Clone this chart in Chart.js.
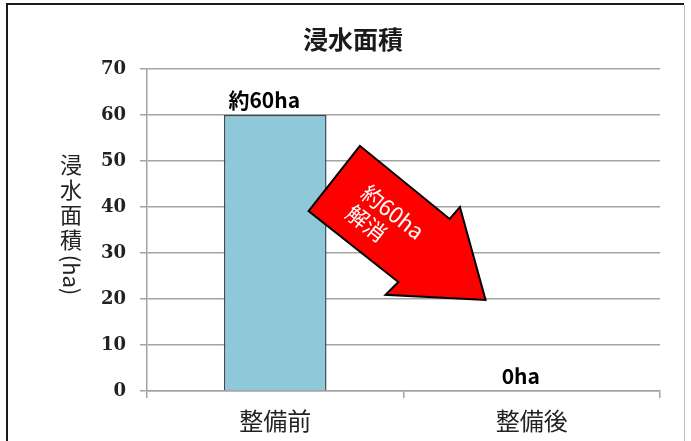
<!DOCTYPE html>
<html>
<head>
<meta charset="utf-8">
<script src="https://cdn.jsdelivr.net/npm/chart.js@4"></script>
<style>
  html, body { margin: 0; padding: 0; background: #fff; }
  #wrap { position: relative; width: 691px; height: 441px; }
</style>
</head>
<body>
<div id="wrap"><canvas id="chart" width="691" height="441"></canvas></div>
<script>
// chart data
const categories = ['整備前', '整備後'];
const areaValues = [60, 0];
const valueLabels = ['約60ha', '0ha'];
const yTicks = [0, 10, 20, 30, 40, 50, 60, 70];

const JP = '"Noto Sans CJK JP", "Noto Sans", sans-serif';
const GRID = '#a3a3a3';

// frame, y-axis title, value labels and the red arrow
const decorations = {
    id: 'decorations',
    afterDraw(chart) {
        const ctx = chart.ctx;
        const x = chart.scales.x;
        const y = chart.scales.y;

        // outer frame (left/top dark, right faint)
        ctx.save();
        ctx.strokeStyle = '#1a1a1a';
        ctx.lineWidth = 2;
        ctx.beginPath();
        ctx.moveTo(7, 445);
        ctx.lineTo(7, 4);
        ctx.lineTo(684, 4);
        ctx.stroke();
        ctx.strokeStyle = '#bbbbbb';
        ctx.lineWidth = 1;
        ctx.beginPath();
        ctx.moveTo(684.5, 5);
        ctx.lineTo(684.5, 445);
        ctx.stroke();
        ctx.restore();

        // vertical axis title, stacked characters
        ctx.save();
        ctx.fillStyle = '#222';
        ctx.font = '22px ' + JP;
        ctx.textAlign = 'center';
        ctx.textBaseline = 'middle';
        const chars = ['浸', '水', '面', '積'];
        chars.forEach((c, i) => ctx.fillText(c, 71, 165 + i * 25));
        ctx.translate(71, 275);
        ctx.rotate(Math.PI / 2);
        ctx.fillText('(ha)', 0, 0);
        ctx.restore();

        // value labels above bars
        ctx.save();
        ctx.fillStyle = '#000';
        ctx.font = 'bold 21px ' + JP;
        ctx.textAlign = 'center';
        ctx.textBaseline = 'bottom';
        const meta = chart.getDatasetMeta(0);
        meta.data.forEach((bar, i) => {
            ctx.fillText(valueLabels[i], bar.x - 11, bar.y - 4);
        });
        ctx.restore();

        // red arrow from the first bar down toward the second
        const px = v => x.getPixelForValue(v);
        const py = v => y.getPixelForValue(v);
        const pts = [
            [px(0.33), py(53.3)],
            [px(0.13), py(39.1)],
            [px(0.48), py(23.7)],
            [px(0.43), py(20.9)],
            [px(0.82), py(19.8)],
            [px(0.72), py(40)],
            [px(0.68), py(37.4)]
        ];
        ctx.save();
        ctx.beginPath();
        pts.forEach((p, i) => i ? ctx.lineTo(p[0], p[1]) : ctx.moveTo(p[0], p[1]));
        ctx.closePath();
        ctx.fillStyle = '#ff0000';
        ctx.fill();
        ctx.lineWidth = 2;
        ctx.strokeStyle = '#000';
        ctx.lineJoin = 'miter';
        ctx.stroke();

        ctx.fillStyle = '#fff';
        ctx.font = '22px ' + JP;
        ctx.textAlign = 'center';
        ctx.textBaseline = 'middle';
        ctx.translate(px(0.45), py(39));
        ctx.rotate(0.66);
        ctx.fillText('約60ha', 2, -1);
        ctx.fillText('解消', -12, 24);
        ctx.restore();
    }
};

new Chart(document.getElementById('chart'), {
    type: 'bar',
    data: {
        labels: categories,
        datasets: [{
            data: areaValues,
            backgroundColor: '#8fc9d9',
            borderColor: '#3c4b52',
            borderWidth: 1.5,
            borderSkipped: 'bottom',
            barPercentage: 0.8,
            categoryPercentage: 0.5
        }]
    },
    options: {
        responsive: false,
        animation: false,
        layout: { padding: { left: 46, right: 31, top: 0, bottom: 0 } },
        plugins: {
            legend: { display: false },
            tooltip: { enabled: false },
            title: {
                display: true,
                text: '浸水面積',
                color: '#1a1a1a',
                font: { family: JP, size: 25, weight: 'bold' },
                padding: { top: 24, bottom: 15 }
            }
        },
        scales: {
            x: {
                afterFit: s => { s.height = 50; },
                grid: {
                    offset: true,
                    drawOnChartArea: false,
                    drawTicks: true,
                    tickLength: 7,
                    color: GRID,
                    lineWidth: 1.5
                },
                border: { color: GRID, width: 1.5 },
                ticks: {
                    color: '#222',
                    padding: 8,
                    font: { family: JP, size: 24 }
                }
            },
            y: {
                min: 0,
                max: 70,
                afterFit: s => { s.width = 101; },
                afterBuildTicks: s => { s.ticks = yTicks.map(v => ({ value: v })); },
                grid: {
                    color: GRID,
                    lineWidth: 1.5,
                    tickLength: 7
                },
                border: { color: GRID, width: 1.5 },
                ticks: {
                    color: '#222',
                    padding: 14,
                    font: { family: '"DejaVu Serif", "Liberation Serif", serif', size: 18, weight: 'bold' }
                }
            }
        }
    },
    plugins: [decorations]
});
</script>
</body>
</html>
